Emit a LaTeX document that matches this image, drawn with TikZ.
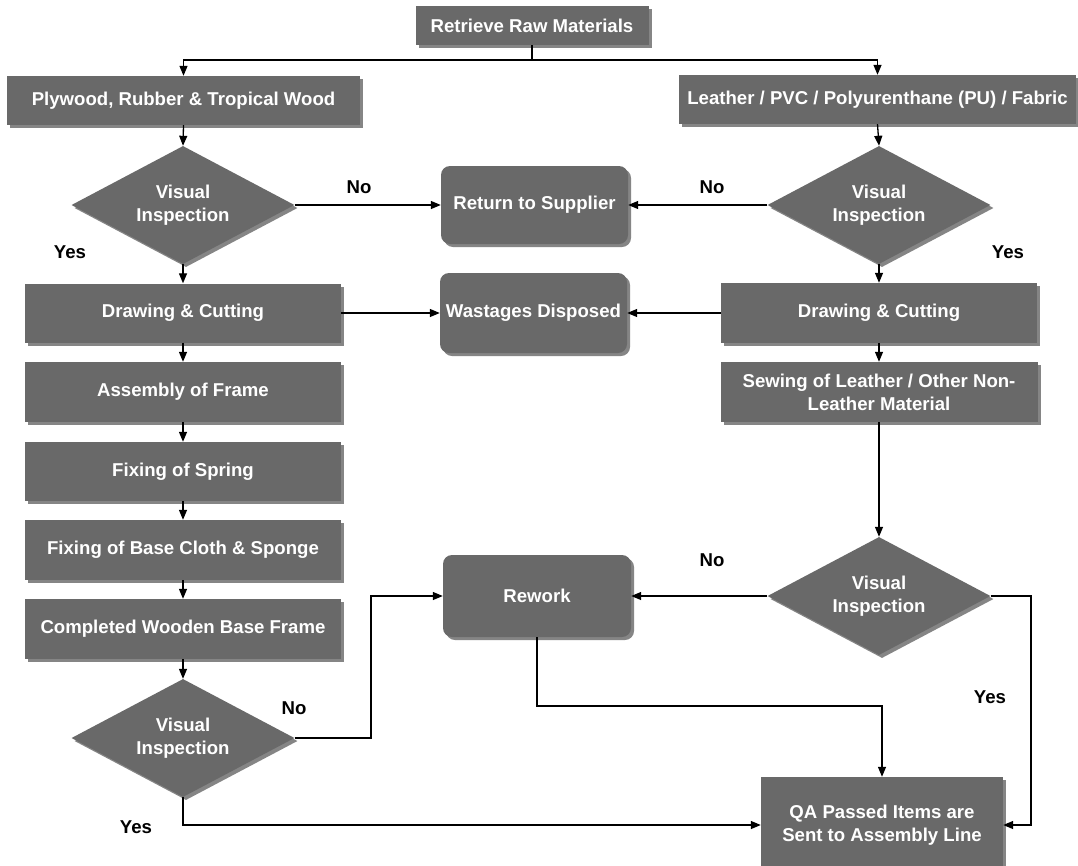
\documentclass[tikz,border=0pt]{standalone}
\usepackage{fontspec}
\setmainfont{Liberation Sans}
\usetikzlibrary{shapes.geometric,arrows.meta,shadows}
\definecolor{boxfill}{HTML}{696969}
\definecolor{shadowc}{HTML}{858585}
\tikzset{
  base/.style={fill=boxfill, draw=none, text=white, font=\fontsize{18.6}{23}\selectfont\bfseries, align=center, inner sep=0pt,
    drop shadow={shadow xshift=3pt, shadow yshift=-3pt, fill=shadowc, opacity=1}},
  procbox/.style={base, rectangle, minimum width=#1},
  roundbox/.style={base, rectangle, rounded corners=9pt, minimum width=187pt},
  decision/.style={base, diamond, minimum width=223pt, minimum height=118pt, aspect=1.9},
  lbl/.style={font=\fontsize{18.6}{23}\selectfont\bfseries, text=black, inner sep=0pt},
  conn/.style={line width=1.3pt, -{Triangle[length=10pt,width=8pt]}},
  plain/.style={line width=1.3pt}
}
\begin{document}
\begin{tikzpicture}[x=1pt,y=-1pt]
\useasboundingbox[fill=white] (0,0) rectangle (1078,865);
% nodes
\node[procbox=233pt, minimum height=39pt] (top) at (532,25.5) {Retrieve Raw Materials};
\node[procbox=353pt, minimum height=49pt] (ply) at (183.5,100.5) {Plywood, Rubber \& Tropical Wood};
\node[procbox=397pt, minimum height=49pt] (lea) at (877.5,99.5) {Leather / PVC / Polyurenthane (PU) / Fabric};
\node[decision] (dl1) at (183,205) {Visual\\Inspection};
\node[decision] (dr1) at (879,205) {Visual\\Inspection};
\node[roundbox, minimum height=78pt] (ret) at (534.5,205) {Return to Supplier};
\node[procbox=316pt, minimum height=59pt] (dcl) at (183,313) {Drawing \& Cutting};
\node[procbox=316pt, minimum height=60pt] (dcr) at (879,313) {Drawing \& Cutting};
\node[roundbox, minimum height=80pt] (was) at (533.5,313) {Wastages Disposed};
\node[procbox=316pt, minimum height=60pt] (asm) at (183,392) {Assembly of Frame};
\node[procbox=317pt, minimum height=60pt] (sew) at (879,392) {Sewing of Leather / Other Non-\\Leather Material};
\node[procbox=316pt, minimum height=59pt] (spr) at (183,471.5) {Fixing of Spring};
\node[procbox=316pt, minimum height=60pt] (clo) at (183,550) {Fixing of Base Cloth \& Sponge};
\node[procbox=316pt, minimum height=60pt] (cwb) at (183,629) {Completed Wooden Base Frame};
\node[decision] (dl2) at (183,738) {Visual\\Inspection};
\node[decision] (dr2) at (879,596) {Visual\\Inspection};
\node[roundbox, minimum height=82pt, minimum width=188pt] (rew) at (537,596) {Rework};
\node[procbox=242pt, minimum height=96pt] (qa) at (882,825) {QA Passed Items are\\Sent to Assembly Line};
% labels
\node[lbl] (n1) at (359,187) {No};
\node[lbl] (n2) at (712,187) {No};
\node[lbl] (y1) at (70,252) {Yes};
\node[lbl] (y2) at (1008,252) {Yes};
\node[lbl] (n3) at (712,560) {No};
\node[lbl] (y3) at (990,697) {Yes};
\node[lbl] (n4) at (294,708) {No};
\node[lbl] (y4) at (136,827) {Yes};
% connectors
\coordinate (split) at (532,60);
\draw[plain] (top.south) -- (split);
\draw[conn] (split) -| (ply.north);
\draw[conn] (split) -| (lea.north);
\draw[conn] (ply.south) -- (dl1.north);
\draw[conn] (lea.south) -- (dr1.north);
\draw[conn] (dl1.east) -- (ret.west);
\draw[conn] (dr1.west) -- (ret.east);
\draw[conn] (dl1.south) -- (dcl.north);
\draw[conn] (dr1.south) -- (dcr.north);
\draw[conn] (dcl.east) -- (was.west);
\draw[conn] (dcr.west) -- (was.east);
\draw[conn] (dcl.south) -- (asm.north);
\draw[conn] (dcr.south) -- (sew.north);
\draw[conn] (asm.south) -- (spr.north);
\draw[conn] (spr.south) -- (clo.north);
\draw[conn] (clo.south) -- (cwb.north);
\draw[conn] (cwb.south) -- (dl2.north);
\draw[conn] (sew.south) -- (dr2.north);
\draw[conn] (dr2.west) -- (rew.east);
\coordinate (c1) at (1031,596);
\draw[conn] (dr2.east) -- (c1) |- (qa.east);
\coordinate (c2) at (371,738);
\draw[conn] (dl2.east) -- (c2) |- (rew.west);
\draw[conn] (dl2.south) |- (qa.west);
\coordinate (c3) at (537,706);
\draw[conn] (rew.south) -- (c3) -| (qa.north);
\end{tikzpicture}
\end{document}
